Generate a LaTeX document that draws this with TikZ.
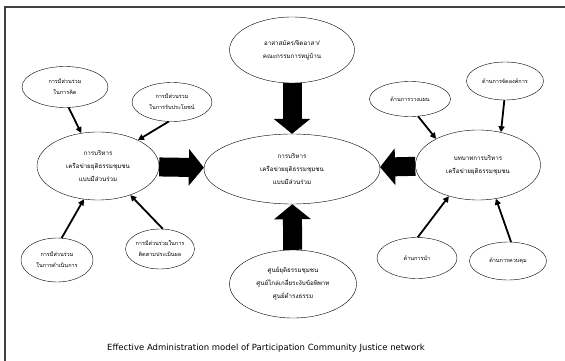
\documentclass[tikz,border=0pt]{standalone}
\usepackage{fontspec}
\newfontfamily\thai[Script=Thai]{Loma}
\newfontfamily\capfont{DejaVu Sans}
\usetikzlibrary{shapes.geometric,arrows.meta}
\begin{document}
\begin{tikzpicture}[x=1pt,y=-1pt,
    big/.style={ellipse,draw,thin,inner sep=0pt,align=center,
        font=\thai\fontsize{6.2}{13}\selectfont},
    small/.style={ellipse,draw,thin,inner sep=0pt,align=center,
        font=\thai\fontsize{5.5}{11}\selectfont},
    fat/.style={line width=19pt,-{Triangle[length=15pt,width=36pt]}},
    thin arrow/.style={line width=1.8pt,-{Triangle[length=6pt,width=6pt]}}]
            \useasboundingbox (0,0) rectangle (565,361);
            \draw[line width=1.2pt,black!75] (5,361) -- (5,7) -- (565,7);
            \node[big,minimum width=176pt,minimum height=70pt] (M) at(292,169){การบริหาร\\เครือข่ายยุติธรรมชุมชน\\แบบมีส่วนร่วม};
            \node[big,minimum width=125pt,minimum height=66pt] (T) at(292,50){อาสาสมัคร/จิตอาสา/\\คณะกรรมการหมู่บ้าน};
            \node[big,minimum width=127pt,minimum height=68pt] (B) at(293,284){ศูนย์ยุติธรรมชุมชน\\ศูนย์ไกล่เกลี่ยระงับข้อพิพาท\\ศูนย์ดำรงธรรม};
            \node[big,minimum width=122pt,minimum height=68pt] (L) at(98,166){การบริหาร\\เครือข่ายยุติธรรมชุมชน\\แบบมีส่วนร่วม};
            \node[big,minimum width=125pt,minimum height=70pt] (R) at(478,165){บทบาทการบริหาร\\เครือข่ายยุติธรรมชุมชน};
            % left side
            \node[small,minimum width=86pt,minimum height=41pt] (L1) at(65,87){การมีส่วนร่วม\\ในการคิด};
            \node[small,minimum width=80pt,minimum height=39pt] (L2) at(172,102){การมีส่วนร่วม\\ในการรับประโยชน์};
            \node[small,minimum width=72pt,minimum height=44pt] (L3) at(57,260){การมีส่วนร่วม\\ในการดำเนินการ};
            \node[small,minimum width=67pt,minimum height=40pt] (L4) at(160,249){การมีส่วนร่วมในการ\\ติดตามประเมินผล};
            \draw[thin arrow] (L1.-80) -- (L.117);
            \draw[thin arrow] (L2.-100) -- (L.33);
            \draw[thin arrow] (L3.78) -- (L.-113);
            \draw[thin arrow] (L4.82) -- (L.-42);
            % right side
            \node[small,minimum width=81pt,minimum height=35pt] (R1) at(410,99){ด้านการวางแผน};
            \node[small,minimum width=77pt,minimum height=38pt] (R2) at(505,81){ด้านการจัดองค์การ};
            \node[small,minimum width=80pt,minimum height=41pt] (R3) at(417,258){ด้านการนำ};
            \node[small,minimum width=77pt,minimum height=38pt] (R4) at(508,261){ด้านการควบคุม};
            \draw[thin arrow] (R1.-65) -- (R.148);
            \draw[thin arrow] (R2.-92) -- (R.55);
            \draw[thin arrow] (R3.88) -- (R.-133);
            \draw[thin arrow] (R4.81) -- (R.-62);
            % big arrows
            \draw[fat] (T) -- (M);
            \draw[fat] (B) -- (M);
            \draw[fat] (L) -- (M);
            \draw[fat] (R) -- (M);
            \node[font=\capfont\fontsize{8.5}{10}\selectfont] (C) at(266,348) {Effective Administration model of Participation Community Justice network};
        \end{tikzpicture}
\end{document}
